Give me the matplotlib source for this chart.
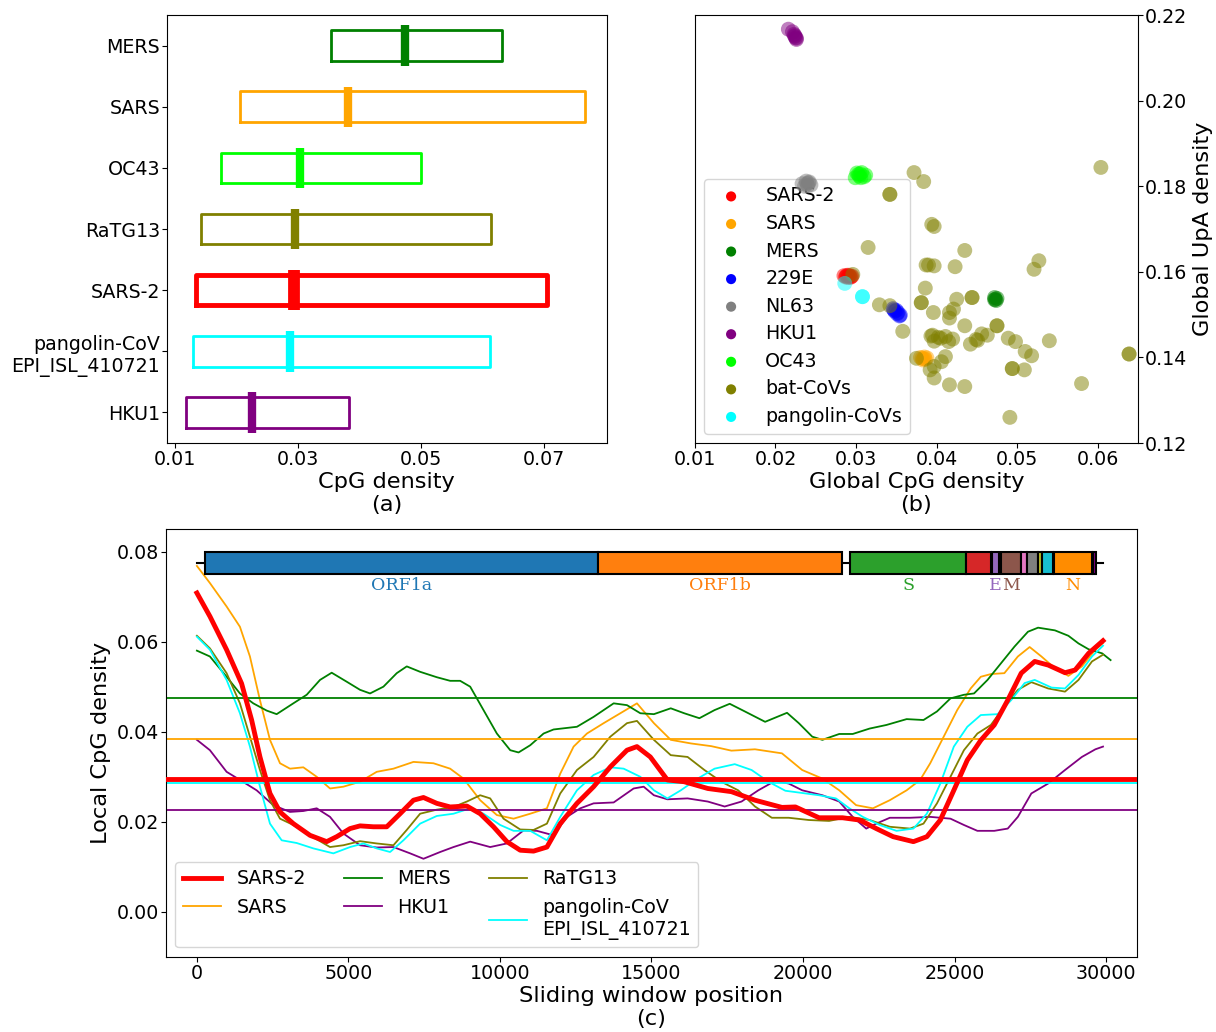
import matplotlib
matplotlib.use("Agg")
import matplotlib.pyplot as plt
import numpy as np

plt.rcParams['font.family'] = ['DejaVu Sans']

# ---------------- Panel (a) data ----------------
box_names = ["HKU1", "pangolin-CoV\nEPI_ISL_410721", "SARS-2", "RaTG13", "OC43", "SARS", "MERS"]
box_colors = ["purple", "cyan", "red", "olive", "lime", "orange", "green"]
box_low = [0.0118, 0.0129, 0.0134, 0.0143, 0.0175, 0.0205, 0.0353]
box_high = [0.0383, 0.0612, 0.0704, 0.0613, 0.0500, 0.0767, 0.0631]
box_median = [0.0226, 0.0287, 0.0294, 0.0295, 0.0304, 0.0381, 0.0474]

# ---------------- Panel (b) data ----------------
sc_labels = ["SARS-2", "SARS", "MERS", "229E", "NL63", "HKU1", "OC43", "bat-CoVs", "pangolin-CoVs"]
sc_colors = ["red", "orange", "green", "blue", "gray", "purple", "lime", "olive", "cyan"]
sars2_x = [0.0285, 0.0288, 0.0291, 0.0294, 0.0290, 0.0295, 0.0287, 0.0292, 0.0289, 0.0293]
sars2_y = [0.1591, 0.1590, 0.1592, 0.1589, 0.1587, 0.1590, 0.1588, 0.1590, 0.1592, 0.1587]
sars_x = [0.0380, 0.0384, 0.0388, 0.0383, 0.0386, 0.0382, 0.0385]
sars_y = [0.1400, 0.1397, 0.1399, 0.1394, 0.1396, 0.1398, 0.1401]
mers_x = [0.0472, 0.0474, 0.0473, 0.0475, 0.0472]
mers_y = [0.1540, 0.1533, 0.1536, 0.1538, 0.1535]
e229_x = [0.0346, 0.0348, 0.0351, 0.0354, 0.0350, 0.0355, 0.0347, 0.0352]
e229_y = [0.1514, 0.1508, 0.1502, 0.1497, 0.1510, 0.1499, 0.1511, 0.1505]
nl63_x = [0.0233, 0.0238, 0.0241, 0.0244, 0.0236, 0.0240, 0.0239, 0.0242]
nl63_y = [0.1806, 0.1812, 0.1808, 0.1803, 0.1800, 0.1801, 0.1806, 0.1810]
hku1_x = [0.0216, 0.0221, 0.0224, 0.0226, 0.0225, 0.0223, 0.0226, 0.0224]
hku1_y = [0.2167, 0.2161, 0.2152, 0.2143, 0.2147, 0.2155, 0.2146, 0.2150]
oc43_x = [0.0299, 0.0303, 0.0307, 0.0312, 0.0306, 0.0301, 0.0310, 0.0304, 0.0305]
oc43_y = [0.1820, 0.1828, 0.1832, 0.1826, 0.1820, 0.1831, 0.1822, 0.1824, 0.1829]
bat_x = [0.0372, 0.0384, 0.0342, 0.0342, 0.0604, 0.0394, 0.0397, 0.0315, 0.0435, 0.0527,
         0.0521, 0.0387, 0.0390, 0.0397, 0.0423, 0.0386, 0.0381, 0.0381, 0.0425, 0.0444,
         0.0444, 0.0329, 0.0342, 0.0396, 0.0416, 0.0421, 0.0416, 0.0358, 0.0435, 0.0475,
         0.0475, 0.0393, 0.0402, 0.0411, 0.0420, 0.0397, 0.0395, 0.0405, 0.0415, 0.0442,
         0.0449, 0.0456, 0.0463, 0.0451, 0.0489, 0.0498, 0.0540, 0.0510, 0.0518, 0.0639,
         0.0639, 0.0375, 0.0411, 0.0406, 0.0397, 0.0392, 0.0494, 0.0494, 0.0509, 0.0397,
         0.0416, 0.0435, 0.0580, 0.0491, 0.0296]
bat_y = [0.1832, 0.1811, 0.1781, 0.1781, 0.1844, 0.1711, 0.1706, 0.1657, 0.1650, 0.1626,
         0.1606, 0.1616, 0.1616, 0.1614, 0.1612, 0.1562, 0.1528, 0.1528, 0.1536, 0.1540,
         0.1540, 0.1523, 0.1521, 0.1505, 0.1505, 0.1513, 0.1492, 0.1461, 0.1474, 0.1474,
         0.1474, 0.1450, 0.1447, 0.1449, 0.1443, 0.1438, 0.1452, 0.1445, 0.1437, 0.1431,
         0.1442, 0.1455, 0.1452, 0.1440, 0.1445, 0.1437, 0.1439, 0.1414, 0.1404, 0.1408,
         0.1408, 0.1398, 0.1402, 0.1390, 0.1379, 0.1371, 0.1374, 0.1374, 0.1371, 0.1352,
         0.1336, 0.1332, 0.1339, 0.1260, 0.1594]
pang_x = [0.0286, 0.0308, 0.0308]
pang_y = [0.1573, 0.1542, 0.1542]

# ---------------- Panel (c) data ----------------
sars2_pos = [0, 430, 980, 1475, 1806, 2081, 2411, 2742, 3182, 3733, 4283, 4613, 5054, 5384, 5824,
             6265, 6705, 7146, 7476, 7916, 8357, 8907, 9348, 9788, 10228, 10669, 11109, 11550,
             11990, 12541, 13091, 13642, 14192, 14521, 14962, 15525, 16081, 16859, 17637, 18416,
             19306, 19750, 20529, 21307, 21863, 22419, 22975, 23643, 24087, 24532, 24977, 25422,
             25867, 26311, 26756, 27201, 27646, 28090, 28646, 28980, 29425, 29900]
sars2_cpg = [.0708, .0656, .0582, .0507, .0426, .0344, .0263, .0222, .0196, .0170, .0156, .0167,
             .0185, .0191, .0189, .0189, .0218, .0248, .0254, .0241, .0233, .0235, .0218, .0189,
             .0156, .0137, .0135, .0144, .0196, .0241, .0278, .0322, .0359, .0367, .0344, .0293,
             .0289, .0274, .0267, .0248, .0232, .0233, .0209, .0209, .0204, .0185, .0167, .0156,
             .0167, .0204, .0270, .0337, .0381, .0415, .0470, .0530, .0556, .0548, .0531, .0537,
             .0574, .0602]

sars_pos = [0, 430, 980, 1420, 1750, 2081, 2411, 2742, 3072, 3512, 3953, 4393, 4834, 5384, 5934,
            6485, 7146, 7806, 8357, 8797, 9348, 9898, 10449, 10999, 11550, 11990, 12431, 12871,
            13422, 13972, 14521, 15080, 15636, 16303, 16971, 17637, 18416, 19306, 19973, 20640,
            21196, 21752, 22308, 22864, 23420, 23865, 24198, 24643, 25088, 25532, 25867, 26200,
            26645, 27090, 27479, 27868, 28313, 28757, 29202, 29648, 29900]
sars_cpg = [.0768, .0730, .0678, .0633, .0567, .0470, .0382, .0330, .0318, .0321, .0300, .0274,
            .0278, .0289, .0311, .0318, .0333, .0330, .0318, .0296, .0248, .0215, .0207, .0218,
            .0230, .0307, .0367, .0396, .0419, .0441, .0463, .0419, .0382, .0374, .0368, .0358,
            .0361, .0352, .0315, .0296, .0270, .0237, .0230, .0248, .0270, .0293, .0330, .0389,
            .0448, .0496, .0522, .0528, .0530, .0567, .0588, .0567, .0541, .0524, .0545, .0582,
            .0597]

mers_pos = [0, 430, 980, 1420, 1861, 2301, 2632, 3182, 3623, 4063, 4448, 4944, 5384, 5714, 6155,
            6595, 6925, 7366, 7916, 8357, 8687, 9018, 9458, 9898, 10339, 10614, 10999, 11440,
            11770, 12541, 13091, 13752, 14192, 14632, 15080, 15636, 16081, 16581, 17081, 17582,
            18082, 18750, 19473, 19862, 20306, 20640, 21196, 21641, 22197, 22753, 23420, 23976,
            24421, 24866, 25310, 25644, 26089, 26534, 26979, 27424, 27757, 28313, 28757, 29091,
            29425, 29870, 30150]
mers_cpg = [.0580, .0567, .0522, .0485, .0463, .0447, .0439, .0463, .0482, .0515, .0531, .0511,
            .0493, .0485, .0500, .0530, .0545, .0533, .0521, .0513, .0513, .0500, .0448, .0396,
            .0359, .0354, .0370, .0396, .0405, .0411, .0433, .0463, .0459, .0441, .0439, .0452,
            .0441, .0430, .0448, .0462, .0445, .0422, .0442, .0419, .0389, .0382, .0395, .0395,
            .0407, .0415, .0428, .0426, .0445, .0474, .0482, .0485, .0515, .0552, .0589, .0622,
            .0631, .0625, .0613, .0596, .0583, .0574, .0559]

hku1_pos = [0, 430, 980, 1420, 1971, 2521, 3072, 3512, 3953, 4393, 4834, 5384, 5934, 6485, 7036,
            7476, 8026, 8467, 9018, 9678, 10228, 10779, 11219, 11770, 12211, 12651, 13091, 13752,
            14411, 14742, 15080, 15525, 16192, 16859, 17415, 17971, 18527, 19083, 19528, 19973,
            20640, 21196, 21641, 22086, 22419, 22864, 23531, 24198, 24866, 25310, 25755, 26311,
            26756, 27090, 27535, 28090, 28646, 29202, 29648, 29900]
hku1_cpg = [.0382, .0359, .0311, .0293, .0270, .0237, .0222, .0224, .0230, .0211, .0174, .0148,
            .0143, .0144, .0130, .0118, .0133, .0144, .0156, .0144, .0152, .0181, .0180, .0170,
            .0211, .0230, .0241, .0243, .0274, .0278, .0259, .0250, .0252, .0245, .0234, .0245,
            .0270, .0291, .0285, .0270, .0259, .0245, .0211, .0185, .0196, .0209, .0209, .0211,
            .0207, .0193, .0180, .0180, .0185, .0211, .0263, .0285, .0315, .0344, .0361, .0367]

ratg_pos = [0, 430, 980, 1420, 1750, 2081, 2411, 2742, 3182, 3733, 4393, 4834, 5384, 5934, 6485,
            6925, 7366, 7916, 8467, 8907, 9348, 9678, 10118, 10669, 11109, 11550, 11990, 12541,
            13091, 13642, 14192, 14521, 15080, 15636, 16192, 16748, 17304, 17860, 18416, 18972,
            19528, 20195, 20862, 21530, 22197, 22864, 23531, 23976, 24421, 24866, 25310, 25755,
            26200, 26645, 27090, 27535, 28090, 28646, 29091, 29536, 29900]
ratg_cpg = [.0613, .0585, .0530, .0463, .0389, .0315, .0248, .0207, .0193, .0170, .0144, .0148,
            .0157, .0152, .0148, .0182, .0218, .0227, .0233, .0245, .0259, .0252, .0207, .0183,
            .0182, .0196, .0263, .0315, .0344, .0389, .0419, .0424, .0382, .0348, .0344, .0315,
            .0289, .0270, .0234, .0209, .0209, .0204, .0202, .0211, .0204, .0189, .0185, .0196,
            .0241, .0300, .0359, .0396, .0415, .0456, .0493, .0510, .0496, .0489, .0515, .0556,
            .0571]

pang_pos = [0, 430, 980, 1420, 1750, 2081, 2411, 2797, 3292, 3843, 4503, 5054, 5494, 5934, 6375,
            6815, 7366, 7916, 8467, 9018, 9458, 10008, 10449, 10999, 11550, 11990, 12541, 13091,
            13642, 14082, 14632, 15080, 15525, 15969, 16525, 17081, 17748, 18305, 18861, 19417,
            19973, 20529, 21085, 21530, 21974, 22530, 23086, 23643, 24087, 24532, 24977, 25422,
            25867, 26423, 26868, 27313, 27646, 28202, 28646, 29091, 29536, 29900]
pang_cpg = [.0611, .0582, .0515, .0441, .0367, .0278, .0196, .0159, .0153, .0141, .0130, .0144,
            .0152, .0141, .0133, .0159, .0196, .0213, .0218, .0230, .0218, .0193, .0180, .0180,
            .0159, .0211, .0270, .0304, .0321, .0318, .0300, .0270, .0252, .0270, .0296, .0318,
            .0328, .0315, .0289, .0269, .0264, .0259, .0252, .0230, .0211, .0193, .0180, .0185,
            .0218, .0285, .0367, .0411, .0437, .0439, .0470, .0508, .0515, .0498, .0496, .0526,
            .0567, .0591]

line_labels = ["SARS-2", "SARS", "MERS", "HKU1", "RaTG13", "pangolin-CoV\nEPI_ISL_410721"]
line_colors = ["red", "orange", "green", "purple", "olive", "cyan"]
global_means = [0.0294, 0.0383, 0.0474, 0.0226, 0.0295, 0.0287]

genome_length = 29903
gene_names = ["ORF1a", "ORF1b", "S", "ORF3a", "E", "M", "ORF6", "ORF7a", "ORF7b", "ORF8", "N", "ORF10"]
gene_start = [266, 13250, 21560, 25393, 26245, 26523, 27202, 27394, 27756, 27894, 28274, 29558]
gene_end = [13250, 21300, 25384, 26220, 26472, 27191, 27387, 27759, 27887, 28259, 29533, 29674]
gene_colors = ["#1f77b4", "#ff7f0e", "#2ca02c", "#d62728", "#9467bd", "#8c564b", "#e377c2",
               "#7f7f7f", "#bcbd22", "#17becf", "#ff8c00", "#800080"]
gene_labeled = ["ORF1a", "ORF1b", "S", "E", "M", "N"]

# ---------------- Figure ----------------
fig = plt.figure(figsize=(12.16, 10.32), dpi=100)
axa = fig.add_axes([0.1373, 0.5707, 0.3618, 0.4147])
axb = fig.add_axes([0.5715, 0.5707, 0.3643, 0.4147])
axc = fig.add_axes([0.1365, 0.0727, 0.7985, 0.4147])

TICK = 13.7
LAB = 16.2
for ax in (axa, axb, axc):
    ax.tick_params(pad=1.5)

# ---- (a)
positions = np.arange(1, len(box_names) + 1)
for i, name in enumerate(box_names):
    lw = 3.5 if name == "SARS-2" else 2.0
    mlw = 8.5 if name == "SARS-2" else 6.0
    stats = [dict(med=box_median[i], q1=box_low[i], q3=box_high[i],
                  whislo=box_low[i], whishi=box_high[i], fliers=[])]
    axa.bxp(stats, positions=[positions[i]], widths=0.5, orientation='horizontal',
            showcaps=False, showfliers=False,
            boxprops=dict(color=box_colors[i], linewidth=lw),
            whiskerprops=dict(color='black', linewidth=1),
            medianprops=dict(color=box_colors[i], linewidth=0))
    axa.vlines(box_median[i], positions[i] - 0.33, positions[i] + 0.33,
               color=box_colors[i], linewidth=mlw)
axa.set_ylim(0.5, len(box_names) + 0.5)
axa.set_xlim(0.0087, 0.0802)
axa.set_yticks(positions)
axa.set_yticklabels(box_names, fontsize=TICK)
axa.set_xticks([0.01, 0.03, 0.05, 0.07])
axa.set_xticklabels(["0.01", "0.03", "0.05", "0.07"], fontsize=TICK)
axa.set_xlabel("CpG density\n(a)", fontsize=LAB, labelpad=2)

# ---- (b)
groups = [(sars2_x, sars2_y), (sars_x, sars_y), (mers_x, mers_y), (e229_x, e229_y),
          (nl63_x, nl63_y), (hku1_x, hku1_y), (oc43_x, oc43_y), (bat_x, bat_y), (pang_x, pang_y)]
handles = []
for (gx, gy), lab, col in zip(groups, sc_labels, sc_colors):
    h = axb.scatter(gx, gy, s=115, c=col, alpha=0.5, edgecolors='none', label=lab, zorder=2)
    handles.append(h)
axb.set_xlim(0.01, 0.065)
axb.set_ylim(0.12, 0.22)
axb.set_xticks([0.01, 0.02, 0.03, 0.04, 0.05, 0.06])
axb.set_xticklabels(["0.01", "0.02", "0.03", "0.04", "0.05", "0.06"], fontsize=TICK)
axb.yaxis.tick_right()
axb.yaxis.set_label_position("right")
axb.set_yticks([0.12, 0.14, 0.16, 0.18, 0.20, 0.22])
axb.set_yticklabels(["0.12", "0.14", "0.16", "0.18", "0.20", "0.22"], fontsize=TICK)
axb.set_xlabel("Global CpG density\n(b)", fontsize=LAB, labelpad=2)
axb.set_ylabel("Global UpA density", fontsize=LAB)
legb = axb.legend(handles=handles, loc='lower left', fontsize=TICK, markerscale=0.68,
                  scatterpoints=1, labelspacing=0.45, handletextpad=0.8)
for lh in legb.legend_handles:
    lh.set_alpha(1)
legb.set_zorder(1)

# ---- (c)
series = [(sars2_pos, sars2_cpg), (sars_pos, sars_cpg), (mers_pos, mers_cpg),
          (hku1_pos, hku1_cpg), (ratg_pos, ratg_cpg), (pang_pos, pang_cpg)]
line_handles = []
for (px, py), lab, col, gm in zip(series, line_labels, line_colors, global_means):
    lw = 3.5 if lab == "SARS-2" else 1.3
    hl = axc.plot(px, py, color=col, linewidth=lw, label=lab, zorder=3 if lab == "SARS-2" else 2,
                  solid_joinstyle='round')[0]
    line_handles.append(hl)
for lab, col, gm in zip(line_labels, line_colors, global_means):
    lw = 3.5 if lab == "SARS-2" else 1.3
    axc.axhline(gm, color=col, linewidth=lw, zorder=3 if lab == "SARS-2" else 2)

# gene map
bar_y = 0.0775
bar_h = 0.005
axc.plot([0, genome_length], [bar_y, bar_y], color='black', linewidth=1.5, zorder=4)
for nm, s0, e0, col in zip(gene_names, gene_start, gene_end, gene_colors):
    axc.barh(bar_y, e0 - s0, left=s0, height=bar_h, color=col, edgecolor='black',
             linewidth=1.5, zorder=5)
    if nm in gene_labeled:
        axc.text((s0 + e0) / 2, 0.0724, nm, color=col, ha='center', va='center',
                 fontsize=12.5, family='DejaVu Serif', zorder=5)

axc.set_xlim(-1020, 31020)
axc.set_ylim(-0.01, 0.085)
axc.set_xticks([0, 5000, 10000, 15000, 20000, 25000, 30000])
axc.set_xticklabels(["0", "5000", "10000", "15000", "20000", "25000", "30000"], fontsize=TICK)
axc.set_yticks([0.0, 0.02, 0.04, 0.06, 0.08])
axc.set_yticklabels(["0.00", "0.02", "0.04", "0.06", "0.08"], fontsize=TICK)
axc.set_xlabel("Sliding window position\n(c)", fontsize=LAB, labelpad=2)
axc.set_ylabel("Local CpG density", fontsize=LAB)
axc.legend(handles=line_handles, loc='lower left', ncol=3, fontsize=TICK)

fig.savefig("out.png", dpi=100)
